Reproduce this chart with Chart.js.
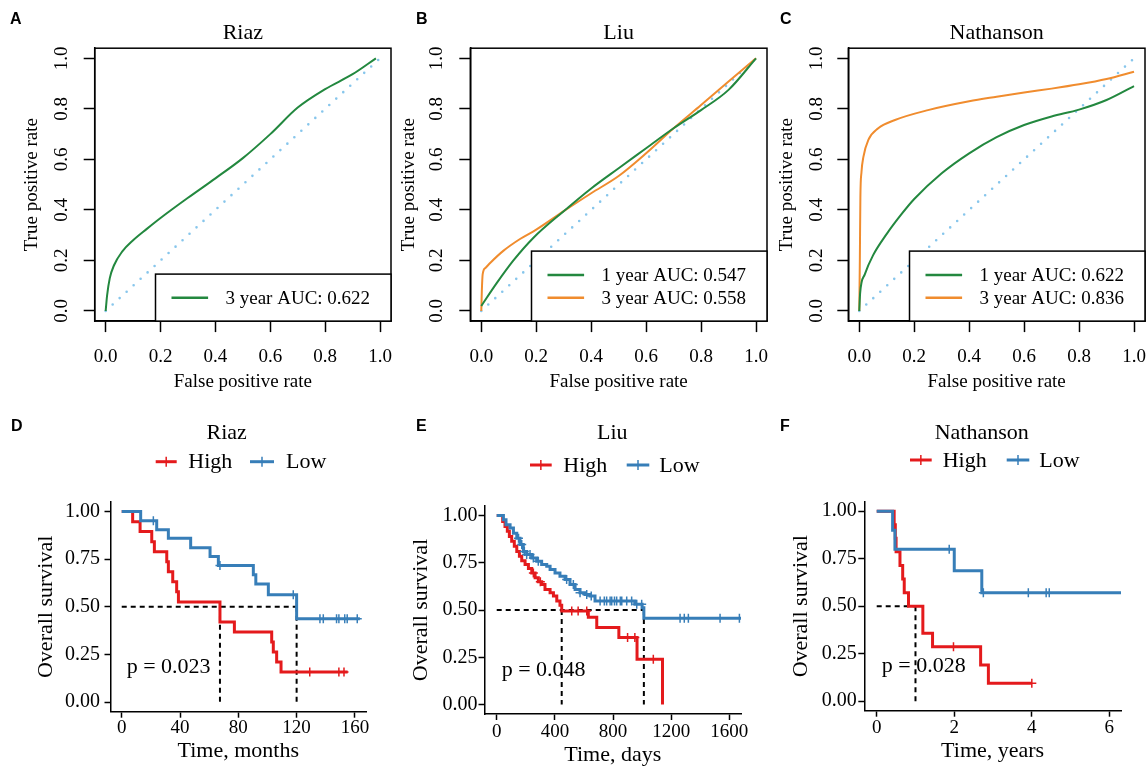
<!DOCTYPE html>
<html>
<head>
<meta charset="utf-8">
<title>ROC and survival panels</title>
<script src="https://cdn.jsdelivr.net/npm/chart.js@4.4.1/dist/chart.umd.min.js"></script>
<style>
  html, body { margin: 0; padding: 0; background: #fff; overflow: hidden; }
  body { position: relative; width: 1148px; height: 766px; }
  canvas { position: absolute; }
  .tag { position: absolute; font: bold 16px "Liberation Sans", Arial, sans-serif; line-height: 16px; color: #000; }
</style>
</head>
<body>
<canvas id="roc-riaz" width="400" height="395" style="left:0;top:0"></canvas>
<canvas id="roc-liu" width="395" height="395" style="left:380px;top:0"></canvas>
<canvas id="roc-nathanson" width="388" height="395" style="left:760px;top:0"></canvas>
<canvas id="km-riaz" width="380" height="366" style="left:0;top:400px"></canvas>
<canvas id="km-liu" width="380" height="366" style="left:380px;top:400px"></canvas>
<canvas id="km-nathanson" width="388" height="366" style="left:760px;top:400px"></canvas>

<div class="tag" style="left:10px;top:11px">A</div>
<div class="tag" style="left:416px;top:11px">B</div>
<div class="tag" style="left:780px;top:11px">C</div>
<div class="tag" style="left:11px;top:418px">D</div>
<div class="tag" style="left:416px;top:418px">E</div>
<div class="tag" style="left:780px;top:418px">F</div>

<script>
// =============================================
// ROC curves (top) + Kaplan-Meier curves (bottom)
// =============================================

// --- ROC data ---
const rocTicks = [0, 0.2, 0.4, 0.6, 0.8, 1.0];
const diagX = [0, 1];
const diagY = [0, 1];

const riazAucLabels = ['3 year AUC: 0.622'];
const riazFpr3y = [0, 0.005, 0.015, 0.03, 0.06, 0.1, 0.15, 0.2, 0.3, 0.4, 0.5, 0.6, 0.7, 0.8, 0.9, 0.985];
const riazTpr3y = [0, 0.06, 0.13, 0.18, 0.235, 0.28, 0.325, 0.368, 0.448, 0.525, 0.605, 0.7, 0.805, 0.878, 0.937, 1.0];

const liuAucLabels = ['1 year AUC: 0.547', '3 year AUC: 0.558'];
const liuFpr1y = [0, 0.056, 0.117, 0.19, 0.3, 0.4, 0.5, 0.6, 0.7, 0.8, 0.9, 1.0];
const liuTpr1y = [0.02, 0.11, 0.2, 0.29, 0.395, 0.485, 0.565, 0.644, 0.723, 0.795, 0.875, 1.0];
const liuFpr3y = [0, 0.002, 0.005, 0.015, 0.035, 0.08, 0.141, 0.2, 0.3, 0.4, 0.5, 0.6, 0.7, 0.8, 0.9, 1.0];
const liuTpr3y = [0, 0.08, 0.145, 0.17, 0.193, 0.238, 0.285, 0.322, 0.395, 0.466, 0.534, 0.624, 0.723, 0.815, 0.908, 1.0];

const nathAucLabels = ['1 year AUC: 0.622', '3 year AUC: 0.836'];
const nathFpr1y = [0, 0.003, 0.02, 0.05, 0.1, 0.15, 0.2, 0.3, 0.4, 0.5, 0.6, 0.7, 0.8, 0.9, 1.0];
const nathTpr1y = [0, 0.07, 0.145, 0.22, 0.305, 0.378, 0.443, 0.545, 0.624, 0.688, 0.736, 0.77, 0.797, 0.835, 0.89];
const nathFpr3y = [0, 0.002, 0.004, 0.008, 0.015, 0.033, 0.069, 0.13, 0.25, 0.4, 0.5, 0.6, 0.7, 0.8, 0.9, 1.0];
const nathTpr3y = [0, 0.2, 0.45, 0.55, 0.61, 0.677, 0.723, 0.756, 0.795, 0.83, 0.848, 0.865, 0.88, 0.897, 0.918, 0.947];

// --- Kaplan-Meier data (time of each step, survival after it) ---
const groupLabels = ['High', 'Low'];
const survTicks = [0, 0.25, 0.5, 0.75, 1.0];

const riazTicks = [0, 40, 80, 120, 160];
const riazHighTime = [0, 7.5, 12.6, 20.6, 22.4, 30.9, 32, 35, 37.7, 38.9, 67.4, 77.3, 102.9, 104, 106.3, 109.3, 155];
const riazHighSurv = [1, 0.947, 0.895, 0.842, 0.789, 0.737, 0.684, 0.632, 0.579, 0.526, 0.421, 0.368, 0.316, 0.263, 0.211, 0.158, 0.158];
const riazHighCensor = [129, 149, 152.5];
const riazLowTime = [0, 13, 24, 32, 47.3, 60.6, 66.3, 90.3, 92, 100.6, 120, 163.4];
const riazLowSurv = [1, 0.951, 0.904, 0.86, 0.81, 0.764, 0.717, 0.668, 0.62, 0.564, 0.438, 0.438];
const riazLowCensor = [21.7, 67.4, 117.7, 136, 138.3, 147.4, 149, 153, 154.7, 161.6];
const riazMedians = [67.4, 120];

const liuTicks = [0, 400, 800, 1200, 1600];
const liuHighTime = [0, 41, 57, 73, 87, 103, 121, 138, 156, 172, 195, 218, 241, 264, 286, 309, 332, 367, 390, 413, 435, 447, 630, 688, 840, 965, 1140];
const liuHighSurv = [1, 0.968, 0.942, 0.916, 0.889, 0.863, 0.837, 0.81, 0.784, 0.761, 0.74, 0.719, 0.696, 0.67, 0.649, 0.635, 0.609, 0.591, 0.574, 0.547, 0.525, 0.495, 0.462, 0.407, 0.355, 0.24, 0];
const liuHighCensor = [252, 300, 516, 560, 619, 900, 950, 1077];
const liuLowTime = [0, 46, 64, 92, 115, 138, 160, 183, 206, 241, 275, 309, 344, 367, 401, 435, 470, 504, 539, 573, 607, 642, 676, 950, 1000, 1012, 1680];
const liuLowSurv = [1, 0.977, 0.951, 0.933, 0.906, 0.88, 0.846, 0.81, 0.793, 0.775, 0.758, 0.74, 0.732, 0.714, 0.696, 0.679, 0.661, 0.635, 0.609, 0.591, 0.582, 0.574, 0.547, 0.53, 0.512, 0.456, 0.456];
const liuLowCensor = [150, 172, 190, 206, 229, 252, 286, 481, 527, 573, 619, 650, 711, 740, 756, 780, 791, 810, 825, 850, 860, 894, 928, 963, 997, 1261, 1290, 1318, 1536, 1669];
const liuMedians = [447, 1012];

const nathTicks = [0, 2, 4, 6];
const nathHighTime = [0, 0.45, 0.48, 0.5, 0.6, 0.67, 0.71, 0.82, 1.19, 1.44, 2.68, 2.88, 4.0];
const nathHighSurv = [1, 0.929, 0.857, 0.786, 0.714, 0.643, 0.571, 0.5, 0.357, 0.286, 0.19, 0.095, 0.095];
const nathHighCensor = [1.98, 4.0];
const nathLowTime = [0, 0.41, 0.47, 2.0, 2.71, 6.32];
const nathLowSurv = [1, 0.9, 0.8, 0.686, 0.571, 0.571];
const nathLowCensor = [1.87, 2.75, 3.91, 4.37, 4.45];
const nathMedians = [1.0];

const pValues = ['p = 0.023', 'p = 0.048', 'p = 0.028'];

// --- styling ---
const SERIF = '"Liberation Serif", "Times New Roman", serif';
const GREEN = '#23883F';
const ORANGE = '#F08C2E';
const DIAG = '#87C6EC';
const RED = '#E41A1C';
const BLUE = '#377EB8';

Chart.defaults.font.family = SERIF;
Chart.defaults.color = '#000';
Chart.defaults.animation = false;

const pts = (xs, ys) => xs.map((x, i) => ({ x, y: ys[i] }));
const survAt = (times, surv, t) => {
  let s = surv[0];
  times.forEach((tt, i) => { if (tt <= t) s = surv[i]; });
  return s;
};

// box around plot area (R base graphics)
const frameBox = {
  id: 'frameBox',
  afterDatasetsDraw(chart) {
    const { ctx, chartArea: a } = chart;
    ctx.save();
    ctx.strokeStyle = '#000';
    ctx.lineWidth = 1.5;
    ctx.strokeRect(a.left, a.top, a.width, a.height);
    ctx.restore();
  }
};

// bottom-right legend box for ROC panels
function rocLegend(items) {
  return {
    id: 'rocLegend',
    afterDatasetsDraw(chart) {
      const { ctx, chartArea: a } = chart;
      const w = 235.5;
      const h = 24 + 23 * items.length;
      const x0 = a.right - w;
      const y0 = a.bottom - h;
      ctx.save();
      ctx.fillStyle = '#fff';
      ctx.fillRect(x0, y0, w, h);
      ctx.strokeStyle = '#000';
      ctx.lineWidth = 1.5;
      ctx.strokeRect(x0, y0, w, h);
      ctx.font = '19px ' + SERIF;
      ctx.textBaseline = 'middle';
      ctx.textAlign = 'left';
      items.forEach((it, i) => {
        const y = a.bottom - 23.3 - (items.length - 1 - i) * 22.7;
        ctx.strokeStyle = it.color;
        ctx.lineWidth = 2.5;
        ctx.beginPath();
        ctx.moveTo(x0 + 16, y);
        ctx.lineTo(x0 + 52.6, y);
        ctx.stroke();
        ctx.fillStyle = '#000';
        ctx.fillText(it.label, x0 + 70, y + 1);
      });
      ctx.restore();
    }
  };
}

function makeRoc(id, cfg) {
  const datasets = cfg.curves.map(c => ({
    label: c.label,
    data: pts(c.x, c.y),
    borderColor: c.color,
    borderWidth: 2,
    pointRadius: 0,
    cubicInterpolationMode: 'monotone',
    fill: false
  }));
  datasets.push({
    label: 'chance',
    data: pts(diagX, diagY),
    borderColor: DIAG,
    borderWidth: 2.6,
    borderDash: [0, 9.5],
    borderCapStyle: 'round',
    pointRadius: 0
  });

  new Chart(document.getElementById(id), {
    type: 'line',
    data: { datasets },
    options: {
      responsive: false,
      events: [],
      layout: { padding: { top: 0, left: 0, bottom: 0, right: cfg.padRight } },
      plugins: {
        legend: { display: false },
        tooltip: { enabled: false },
        title: {
          display: true, text: cfg.title, fullSize: false,
          font: { size: 22, lineHeight: 1.2, weight: 'normal' },
          padding: { top: 20.1, bottom: 1.7 }
        }
      },
      scales: {
        x: {
          type: 'linear', min: -0.04, max: 1.04,
          afterBuildTicks: s => { s.ticks = rocTicks.map(v => ({ value: v })); },
          afterFit: s => { s.height = 73.9; },
          ticks: { autoSkip: false, maxRotation: 0, padding: 1, font: { size: 19, lineHeight: 2.48 }, callback: v => v.toFixed(1) },
          grid: { display: true, drawOnChartArea: false, drawTicks: true, tickLength: 11, tickWidth: 1.5, tickColor: '#000' },
          border: { display: true, color: '#000', width: 1.5 },
          title: { display: true, text: 'False positive rate', font: { size: 19, lineHeight: 1.2 }, padding: { top: 0, bottom: 2 } }
        },
        y: {
          type: 'linear', min: -0.04, max: 1.04,
          afterBuildTicks: s => { s.ticks = rocTicks.map(v => ({ value: v })); },
          afterFit: s => { s.width = cfg.yWidth; },
          ticks: { autoSkip: false, minRotation: 90, maxRotation: 90, crossAlign: 'center', padding: cfg.yTickPad, font: { size: 19 }, callback: v => v.toFixed(1) },
          grid: { display: true, drawOnChartArea: false, drawTicks: true, tickLength: 11, tickWidth: 1.5, tickColor: '#000' },
          border: { display: true, color: '#000', width: 1.5 },
          title: { display: true, text: 'True positive rate', font: { size: 19, lineHeight: 1.2 }, padding: { top: cfg.yTitlePad, bottom: 0 } }
        }
      }
    },
    plugins: [frameBox, rocLegend(cfg.curves.map(c => ({ label: c.label, color: c.color })))]
  });
}

// title, High/Low key and p-value for survival panels
function kmHeader(cfg) {
  return {
    id: 'kmHeader',
    beforeDatasetsDraw(chart) {
      const { ctx, scales } = chart;
      ctx.save();
      ctx.font = '22px ' + SERIF;
      ctx.fillStyle = '#000';
      ctx.textAlign = 'left';
      ctx.textBaseline = 'alphabetic';
      ctx.fillText(cfg.pText, scales.x.getPixelForValue(cfg.pAt[0]), scales.y.getPixelForValue(cfg.pAt[1]));
      ctx.restore();
    },
    afterDraw(chart) {
      const ctx = chart.ctx;
      ctx.save();
      ctx.font = '22px ' + SERIF;
      ctx.fillStyle = '#000';
      ctx.textAlign = 'center';
      ctx.textBaseline = 'middle';
      ctx.fillText(cfg.title, cfg.titleAt[0], cfg.titleAt[1]);
      ctx.textAlign = 'left';
      cfg.keys.forEach(k => {
        ctx.strokeStyle = k.color;
        ctx.lineWidth = 3;
        ctx.beginPath();
        ctx.moveTo(k.from, cfg.keyY);
        ctx.lineTo(k.to, cfg.keyY);
        ctx.stroke();
        const cx = (k.from + k.to) / 2;
        ctx.lineWidth = 1.5;
        ctx.beginPath();
        ctx.moveTo(cx, cfg.keyY - 5);
        ctx.lineTo(cx, cfg.keyY + 5);
        ctx.stroke();
        ctx.fillStyle = '#000';
        ctx.fillText(k.label, k.textX, cfg.keyY + 1);
      });
      ctx.restore();
    }
  };
}

function makeKm(id, cfg) {
  const step = (t, s, color) => ({
    data: pts(t, s), borderColor: color, borderWidth: 3,
    stepped: 'before', pointRadius: 0, fill: false
  });
  const marks = (c, t, s, color) => ({
    data: c.map(x => ({ x, y: survAt(t, s, x) })),
    showLine: false, pointStyle: 'cross', pointRadius: 4.5,
    pointBorderWidth: 1.5, pointBorderColor: color, borderColor: color
  });
  const dash = (xs, ys) => ({
    data: pts(xs, ys), borderColor: '#000', borderWidth: 2,
    borderDash: [5, 4], pointRadius: 0
  });
  const mMax = Math.max(...cfg.medians);
  const datasets = [
    marks(cfg.lowCensor, cfg.lowTime, cfg.lowSurv, BLUE),
    step(cfg.lowTime, cfg.lowSurv, BLUE),
    marks(cfg.highCensor, cfg.highTime, cfg.highSurv, RED),
    step(cfg.highTime, cfg.highSurv, RED),
    dash([0, mMax], [0.5, 0.5]),
    ...cfg.medians.map(m => dash([m, m], [0.5, 0]))
  ];

  new Chart(document.getElementById(id), {
    type: 'line',
    data: { datasets },
    options: {
      responsive: false,
      events: [],
      layout: { padding: { top: cfg.padTop, left: 0, bottom: 0, right: cfg.padRight } },
      plugins: { legend: { display: false }, tooltip: { enabled: false } },
      scales: {
        x: {
          type: 'linear', min: cfg.xMin, max: cfg.xMax,
          afterBuildTicks: s => { s.ticks = cfg.xTicks.map(v => ({ value: v })); },
          afterFit: s => { s.height = cfg.xHeight; },
          ticks: { autoSkip: false, maxRotation: 0, padding: cfg.xTickPad, font: { size: 19, lineHeight: 1 }, callback: v => String(v) },
          grid: { display: true, drawOnChartArea: false, drawTicks: true, tickLength: 6, tickWidth: 1.5, tickColor: '#000' },
          border: { display: true, color: '#000', width: 1.5 },
          title: { display: true, text: cfg.xTitle, font: { size: 22, lineHeight: 1 }, padding: { top: 0, bottom: cfg.xTitlePad } }
        },
        y: {
          type: 'linear', min: -0.05, max: 1.05,
          afterBuildTicks: s => { s.ticks = survTicks.map(v => ({ value: v })); },
          afterFit: s => { s.width = cfg.yWidth; },
          ticks: { autoSkip: false, padding: cfg.yTickPad, font: { size: 20 }, callback: v => v.toFixed(2) },
          grid: { display: true, drawOnChartArea: false, drawTicks: true, tickLength: 6, tickWidth: 1.5, tickColor: '#000' },
          border: { display: true, color: '#000', width: 1.5 },
          title: { display: true, text: 'Overall survival', font: { size: 22, lineHeight: 1 }, padding: { top: cfg.yTitlePad, bottom: 0 } }
        }
      }
    },
    plugins: [kmHeader(cfg)]
  });
}

// --- top row ---
makeRoc('roc-riaz', {
  title: 'Riaz', padRight: 9, yWidth: 94.7, yTickPad: 10.1, yTitlePad: 20.3,
  curves: [{ label: riazAucLabels[0], x: riazFpr3y, y: riazTpr3y, color: GREEN }]
});
makeRoc('roc-liu', {
  title: 'Liu', padRight: 8, yWidth: 90.3, yTickPad: 10.7, yTitlePad: 17.9,
  curves: [
    { label: liuAucLabels[0], x: liuFpr1y, y: liuTpr1y, color: GREEN },
    { label: liuAucLabels[1], x: liuFpr3y, y: liuTpr3y, color: ORANGE }
  ]
});
makeRoc('roc-nathanson', {
  title: 'Nathanson', padRight: 3, yWidth: 88.3, yTickPad: 8.7, yTitlePad: 15.3,
  curves: [
    { label: nathAucLabels[0], x: nathFpr1y, y: nathTpr1y, color: GREEN },
    { label: nathAucLabels[1], x: nathFpr3y, y: nathTpr3y, color: ORANGE }
  ]
});

// --- bottom row ---
makeKm('km-riaz', {
  title: 'Riaz', titleAt: [226.7, 33.3], keyY: 61.7,
  keys: [
    { label: groupLabels[0], color: RED, from: 155.7, to: 176.7, textX: 188.3 },
    { label: groupLabels[1], color: BLUE, from: 250, to: 274, textX: 286 }
  ],
  pText: pValues[0], pAt: [3.4, 0.153],
  highTime: riazHighTime, highSurv: riazHighSurv, highCensor: riazHighCensor,
  lowTime: riazLowTime, lowSurv: riazLowSurv, lowCensor: riazLowCensor,
  medians: riazMedians, xTicks: riazTicks, xMin: -7.7, xMax: 167.6, xTitle: 'Time, months',
  padTop: 102, padRight: 14, yWidth: 110.5, xHeight: 54.3,
  xTickPad: 1.1, xTitlePad: 3.3, yTickPad: 4.5, yTitlePad: 35.7
});
makeKm('km-liu', {
  title: 'Liu', titleAt: [232.3, 33.3], keyY: 65,
  keys: [
    { label: groupLabels[0], color: RED, from: 150, to: 171.7, textX: 183.3 },
    { label: groupLabels[1], color: BLUE, from: 246.7, to: 269.3, textX: 279.3 }
  ],
  pText: pValues[1], pAt: [34, 0.153],
  highTime: liuHighTime, highSurv: liuHighSurv, highCensor: liuHighCensor,
  lowTime: liuLowTime, lowSurv: liuLowSurv, lowCensor: liuLowCensor,
  medians: liuMedians, xTicks: liuTicks, xMin: -84, xMax: 1680, xTitle: 'Time, days',
  padTop: 106, padRight: 19, yWidth: 104.5, xHeight: 52,
  xTickPad: 2.2, xTitlePad: 0, yTickPad: 1, yTitlePad: 30.7
});
makeKm('km-nathanson', {
  title: 'Nathanson', titleAt: [221.7, 33.3], keyY: 60,
  keys: [
    { label: groupLabels[0], color: RED, from: 150, to: 171.7, textX: 182.7 },
    { label: groupLabels[1], color: BLUE, from: 246.7, to: 269.3, textX: 279.3 }
  ],
  pText: pValues[2], pAt: [0.13, 0.153],
  highTime: nathHighTime, highSurv: nathHighSurv, highCensor: nathHighCensor,
  lowTime: nathLowTime, lowSurv: nathLowSurv, lowCensor: nathLowCensor,
  medians: nathMedians, xTicks: nathTicks, xMin: -0.32, xMax: 6.3, xTitle: 'Time, years',
  padTop: 101.7, padRight: 27, yWidth: 104.3, xHeight: 55.3,
  xTickPad: 2.1, xTitlePad: 3.3, yTickPad: 1.6, yTitlePad: 30.7
});
</script>
</body>
</html>
